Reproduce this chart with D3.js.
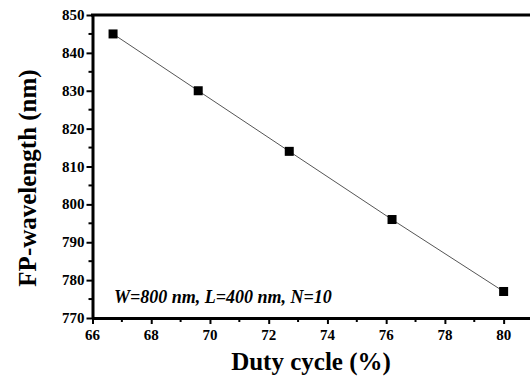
<!doctype html>
<html>
<head>
<meta charset="utf-8">
<style>
  body { margin: 0; background: #fff; }
  svg { display: block; }
  text { font-family: "Liberation Serif", "Times New Roman", serif; font-weight: bold; fill: #000; }
</style>
</head>
<body>
<svg width="530" height="378"></svg>
<script src="https://d3js.org/d3.v7.min.js"></script>
<script>
  var dutyCycle = [66.7, 69.6, 72.7, 76.2, 80.0];
  var wavelength = [845, 830, 814, 796, 777];
  var xTicks = [66, 68, 70, 72, 74, 76, 78, 80];
  var yTicks = [770, 780, 790, 800, 810, 820, 830, 840, 850];

  var svg = d3.select("svg");
  var plotLeft = 92.5, plotTop = 15, plotBottom = 318, plotRight = 533;

  var x = d3.scaleLinear().domain([66, 81]).range([plotLeft, plotRight]);
  var y = d3.scaleLinear().domain([770, 850]).range([plotBottom, plotTop]);

  // minor ticks
  var xMinor = d3.range(67, 81, 2);
  var yMinor = d3.range(775, 850, 10);

  svg.append("g").selectAll("line").data(xMinor).enter().append("line")
    .attr("x1", d => x(d)).attr("x2", d => x(d))
    .attr("y1", plotBottom).attr("y2", plotBottom + 4)
    .attr("stroke", "#000").attr("stroke-width", 2);

  svg.append("g").selectAll("line").data(yMinor).enter().append("line")
    .attr("y1", d => y(d)).attr("y2", d => y(d))
    .attr("x1", plotLeft).attr("x2", plotLeft - 4)
    .attr("stroke", "#000").attr("stroke-width", 2);

  function styleAxis(g) {
    g.select(".domain").attr("stroke", "#000").attr("stroke-width", 3);
    g.selectAll(".tick line").attr("stroke", "#000").attr("stroke-width", 2);
  }

  // axes: lines from d3.axis, labels drawn as plain text
  svg.append("g")
    .attr("transform", "translate(0," + plotBottom + ")")
    .call(d3.axisBottom(x).tickValues(xTicks).tickSize(6).tickSizeOuter(0).tickFormat(""))
    .call(styleAxis);

  svg.append("g")
    .attr("transform", "translate(" + plotLeft + ",0)")
    .call(d3.axisLeft(y).tickValues(yTicks).tickSize(6).tickSizeOuter(0).tickFormat(""))
    .call(styleAxis);

  svg.append("g").selectAll("text").data(xTicks).enter().append("text")
    .attr("x", d => x(d)).attr("y", plotBottom + 22)
    .attr("text-anchor", "middle")
    .style("font-size", "15px")
    .text(d => d);

  svg.append("g").selectAll("text").data(yTicks).enter().append("text")
    .attr("x", plotLeft - 8).attr("y", d => y(d) + 5)
    .attr("text-anchor", "end")
    .style("font-size", "15px")
    .text(d => d);

  // top frame
  svg.append("line")
    .attr("x1", plotLeft - 1.5).attr("x2", 530)
    .attr("y1", plotTop).attr("y2", plotTop)
    .attr("stroke", "#000").attr("stroke-width", 3);

  var pts = dutyCycle.map((d, i) => [d, wavelength[i]]);

  svg.append("path")
    .datum(pts)
    .attr("fill", "none")
    .attr("stroke", "#555")
    .attr("stroke-width", 1)
    .attr("d", d3.line().x(d => x(d[0])).y(d => y(d[1])));

  svg.append("g").selectAll("rect").data(pts).enter().append("rect")
    .attr("x", d => x(d[0]) - 4.5)
    .attr("y", d => y(d[1]) - 4.5)
    .attr("width", 9).attr("height", 9)
    .attr("fill", "#000");

  svg.append("text")
    .attr("x", 114).attr("y", 303)
    .style("font-size", "18px").style("font-style", "italic")
    .text("W=800 nm, L=400 nm, N=10");

  svg.append("text")
    .attr("x", 311).attr("y", 370)
    .attr("text-anchor", "middle")
    .style("font-size", "25px")
    .text("Duty cycle (%)");

  svg.append("text")
    .attr("transform", "translate(36,178) rotate(-90)")
    .attr("text-anchor", "middle")
    .style("font-size", "25px")
    .text("FP-wavelength (nm)");
</script>
</body>
</html>
